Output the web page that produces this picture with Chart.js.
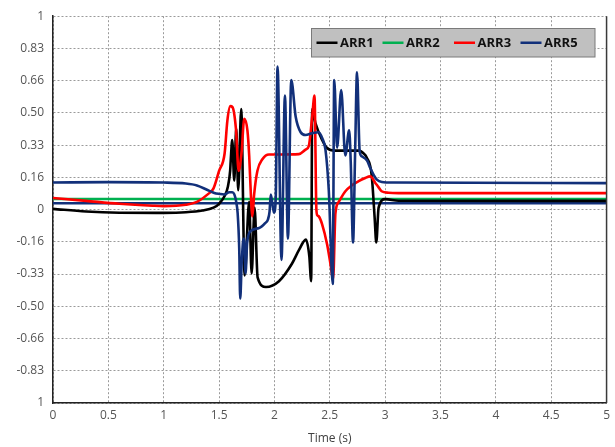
<!DOCTYPE html>
<html><head><meta charset="utf-8">
<script src="https://cdn.jsdelivr.net/npm/chart.js@4.4.1/dist/chart.umd.min.js"></script>
<style>html,body{margin:0;padding:0;background:#fff}#wrap{width:615px;height:447px}canvas{display:block}</style>
</head><body><div id="wrap"><canvas id="c" width="615" height="447" style="width:615px;height:447px"></canvas></div>
<script>
// ---- data ----
const seriesNames = ['ARR1', 'ARR2', 'ARR3', 'ARR4', 'ARR5'];
const legendNames = ['ARR1', 'ARR2', 'ARR3', 'ARR5'];

const arr1Time  = [0, 0.3, 0.6, 1.0, 1.2, 1.35, 1.45, 1.5, 1.55, 1.58, 1.6, 1.605, 1.619, 1.637, 1.655, 1.673, 1.700, 1.731, 1.772, 1.794, 1.821, 1.848, 1.924, 2.041, 2.158, 2.221, 2.284, 2.315, 2.332, 2.341, 2.371, 2.431, 2.473, 2.551, 2.761, 2.806, 2.833, 2.878, 2.905, 2.920, 2.941, 3.001, 3.121, 5];
const arr1Value = [0.004, -0.01, -0.016, -0.017, -0.014, -0.005, 0.01, 0.03, 0.07, 0.12, 0.2, 0.25, 0.36, 0.15, 0.42, 0.1, 0.52, -0.34, 0.04, -0.33, 0.01, -0.35, -0.40, -0.37, -0.28, -0.21, -0.155, -0.24, -0.37, 0.52, 0.446, 0.36, 0.32, 0.305, 0.305, 0.29, 0.27, 0.18, -0.04, -0.17, 0.01, 0.054, 0.046, 0.045];

const arr2Time  = [0, 5];
const arr2Value = [0.055, 0.055];

const arr3Time  = [0, 0.3, 0.6, 0.9, 1.0, 1.2, 1.3, 1.4, 1.45, 1.5, 1.55, 1.575, 1.601, 1.621, 1.652, 1.677, 1.704, 1.727, 1.756, 1.772, 1.787, 1.801, 1.817, 1.846, 1.891, 1.951, 2.041, 2.221, 2.281, 2.311, 2.341, 2.362, 2.379, 2.388, 2.401, 2.431, 2.476, 2.506, 2.530, 2.551, 2.581, 2.641, 2.698, 2.761, 2.815, 2.866, 2.911, 2.941, 2.968, 3.031, 3.121, 5];
const arr3Value = [0.06, 0.045, 0.03, 0.02, 0.018, 0.025, 0.04, 0.08, 0.11, 0.2, 0.29, 0.46, 0.535, 0.53, 0.42, 0.2, 0.3, 0.47, 0.41, 0.28, 0.08, -0.035, 0.08, 0.2, 0.26, 0.285, 0.285, 0.287, 0.31, 0.33, 0.48, 0.59, 0.0, -0.03, -0.035, -0.076, -0.18, -0.28, -0.36, -0.02, 0.04, 0.095, 0.125, 0.147, 0.162, 0.172, 0.138, 0.115, 0.095, 0.087, 0.085, 0.085];

const arr4Time  = [0, 5];
const arr4Value = [0.033, 0.033];

const arr5Time  = [0, 0.5, 1.0, 1.2, 1.3, 1.4, 1.457, 1.502, 1.547, 1.592, 1.619, 1.637, 1.655, 1.668, 1.682, 1.691, 1.704, 1.718, 1.727, 1.739, 1.754, 1.787, 1.862, 1.916, 1.942, 1.956, 1.967, 1.982, 1.996, 2.012, 2.028, 2.064, 2.095, 2.122, 2.152, 2.192, 2.237, 2.281, 2.341, 2.401, 2.431, 2.461, 2.491, 2.527, 2.540, 2.566, 2.603, 2.640, 2.675, 2.689, 2.710, 2.729, 2.746, 2.770, 2.790, 2.835, 2.866, 2.896, 2.925, 2.970, 3.076, 5];
const arr5Value = [0.14, 0.142, 0.14, 0.135, 0.125, 0.1, 0.086, 0.081, 0.078, 0.09, 0.09, 0.08, 0.04, -0.02, -0.2, -0.46, -0.28, -0.16, -0.15, -0.33, -0.17, -0.11, -0.095, -0.07, -0.05, -0.01, 0.078, 0.027, -0.016, 0.06, 0.74, -0.26, 0.59, -0.15, 0.67, 0.48, 0.40, 0.386, 0.395, 0.40, 0.37, 0.31, 0.1, -0.385, 0.67, 0.32, 0.618, 0.28, 0.41, 0.25, -0.17, 0.3, 0.71, 0.3, 0.275, 0.255, 0.215, 0.18, 0.155, 0.143, 0.14, 0.137];

const xTickValues = [0, 0.5, 1, 1.5, 2, 2.5, 3, 3.5, 4, 4.5, 5];
const yTickValues = [-1, -0.8333, -0.6667, -0.5, -0.3333, -0.1667, 0, 0.1667, 0.3333, 0.5, 0.6667, 0.8333, 1];
const yTickLabels = ['1', '-0.83', '-0.66', '-0.50', '-0.33', '-0.16', '0', '0.16', '0.33', '0.50', '0.66', '0.83', '1'];
const xAxisTitle = 'Time (s)';

// ---- styling ----
const colors = { ARR1: '#000000', ARR2: '#00b050', ARR3: '#ff0000', ARR4: '#12307a', ARR5: '#12307a' };
const drawOrder = { ARR1: 2, ARR2: 3, ARR3: 1, ARR4: 4, ARR5: 0 };

function pts(t, v) { return t.map((x, i) => ({ x: x, y: v[i] })); }
const seriesData = {
  ARR1: pts(arr1Time, arr1Value),
  ARR2: pts(arr2Time, arr2Value),
  ARR3: pts(arr3Time, arr3Value),
  ARR4: pts(arr4Time, arr4Value),
  ARR5: pts(arr5Time, arr5Value)
};

const datasets = seriesNames.map(n => ({
  label: n,
  data: seriesData[n],
  borderColor: colors[n],
  backgroundColor: colors[n],
  borderWidth: 2.6,
  pointRadius: 0,
  fill: false,
  cubicInterpolationMode: 'monotone',
  order: drawOrder[n]
}));

const framePlugin = {
  id: 'frame',
  afterDatasetsDraw(chart) {
    const { ctx, chartArea: a } = chart;
    ctx.save();
    ctx.strokeStyle = '#3a3a3a';
    ctx.lineWidth = 1.5;
    ctx.beginPath();
    ctx.moveTo(a.right, a.top);
    ctx.lineTo(a.right, a.bottom);
    ctx.stroke();
    ctx.restore();
  },
  afterDraw(chart) {
    const ctx = chart.ctx;
    const bx = 311.5, by = 28.5, bw = 283.5, bh = 28.5;
    ctx.save();
    ctx.fillStyle = '#c0c0c0';
    ctx.fillRect(bx, by, bw, bh);
    ctx.strokeStyle = '#7a7a7a';
    ctx.lineWidth = 1;
    ctx.strokeRect(bx, by, bw, bh);
    const starts = [316.5, 382.5, 454, 520.5];
    const cy = by + bh / 2;
    ctx.font = 'bold 13px "Open Sans", sans-serif';
    ctx.textBaseline = 'middle';
    ctx.textAlign = 'left';
    legendNames.forEach((n, i) => {
      const x0 = starts[i];
      ctx.strokeStyle = colors[n];
      ctx.lineWidth = 2.5;
      ctx.beginPath();
      ctx.moveTo(x0, cy);
      ctx.lineTo(x0 + 21, cy);
      ctx.stroke();
      ctx.fillStyle = '#111';
      ctx.fillText(n, x0 + 23.5, cy + 0.5);
    });
    ctx.restore();
  }
};

const tickFont = { family: '"Open Sans", sans-serif', size: 12 };
new Chart(document.getElementById('c'), {
  type: 'line',
  data: { datasets },
  plugins: [framePlugin],
  options: {
    responsive: false,
    animation: false,
    devicePixelRatio: 1,
    layout: { padding: { top: 14, right: 6, left: 0, bottom: 0 } },
    plugins: { legend: { display: false }, tooltip: { enabled: false } },
    scales: {
      x: {
        type: 'linear', min: 0, max: 5,
        afterBuildTicks: s => { s.ticks = xTickValues.map(v => ({ value: v })); },
        afterFit: s => { s.height = 44; },
        ticks: { padding: 5, color: '#555', font: tickFont, maxRotation: 0, autoSkip: false, callback: v => String(v) },
        grid: { color: '#9a9a9a', lineWidth: 1, drawTicks: false },
        border: { display: true, color: '#222', width: 1.5, dash: [2, 2] },
        title: { display: true, text: xAxisTitle, color: '#404040', font: { family: '"Open Sans", sans-serif', size: 12 }, padding: { top: 0, bottom: 1 } }
      },
      y: {
        type: 'linear', min: -1, max: 1,
        afterBuildTicks: s => { s.ticks = yTickValues.map(v => ({ value: v })); },
        afterFit: s => { s.width = 53; },
        ticks: { padding: 9, color: '#555', font: tickFont, autoSkip: false, callback: (v, i) => yTickLabels[i] },
        grid: { color: '#9a9a9a', lineWidth: 1, drawTicks: false },
        border: { display: true, color: '#222', width: 1.5, dash: [2, 2] }
      }
    }
  }
});
</script>
</body></html>
